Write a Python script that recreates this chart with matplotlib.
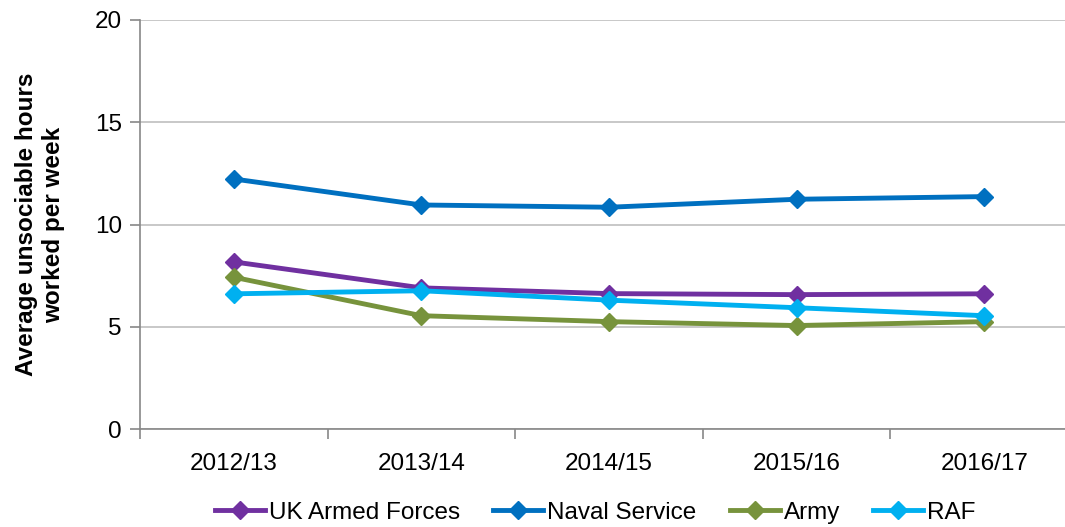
import matplotlib
matplotlib.use("Agg")
import matplotlib.pyplot as plt
import numpy as np

years = ["2012/13", "2013/14", "2014/15", "2015/16", "2016/17"]
uk_armed_forces = [8.18, 6.91, 6.63, 6.58, 6.62]
naval_service = [12.23, 10.96, 10.85, 11.24, 11.37]
army = [7.43, 5.55, 5.26, 5.07, 5.26]
raf = [6.62, 6.77, 6.31, 5.94, 5.55]

series = [
    ("UK Armed Forces", uk_armed_forces, "#7030A0"),
    ("Naval Service", naval_service, "#0070C0"),
    ("Army", army, "#77933C"),
    ("RAF", raf, "#00B0F0"),
]

plt.rcParams["font.family"] = ["Liberation Sans", "DejaVu Sans"]
fs = 17.5

fig = plt.figure(figsize=(10.65, 5.27), dpi=100)
ax = fig.add_axes([0.1315, 0.1854, 0.8808, 0.7767])

x = np.arange(len(years))
for name, vals, col in series:
    ax.plot(x, vals, color=col, lw=3.5, marker="D", markersize=9,
            label=name, solid_joinstyle="round")

ax.set_xlim(-0.5, len(years) - 0.5)
ax.set_ylim(0, 20)
ax.set_yticks([0, 5, 10, 15, 20])
ax.grid(axis="y", color="#bfbfbf", lw=1.2)
ax.set_axisbelow(True)

# ticks between categories, labels at category centres
ax.set_xticks(np.arange(-0.5, len(years)), labels=[""] * (len(years) + 1))
ax.set_xticks(x, labels=years, minor=True)
ax.tick_params(axis="x", which="major", length=7, width=1.2, color="#888888", direction="out")
ax.tick_params(axis="x", which="minor", length=0, pad=17, labelsize=fs)
ax.tick_params(axis="y", length=7, width=1.2, color="#888888", pad=6, labelsize=fs)

for s in ["top", "right"]:
    ax.spines[s].set_visible(False)
for s in ["left", "bottom"]:
    ax.spines[s].set_color("#888888")
    ax.spines[s].set_linewidth(1.2)

ax.set_ylabel("Average unsociable hours\nworked per week", fontsize=fs,
              fontweight="bold", linespacing=1.2)
ax.yaxis.set_label_coords(-0.08, 0.5)

fig.legend(loc="center", bbox_to_anchor=(0.559, 0.027), ncol=4, frameon=False,
           fontsize=fs, handlelength=2.06, handletextpad=0.17, columnspacing=1.36)

fig.savefig("out.png", dpi=100)
